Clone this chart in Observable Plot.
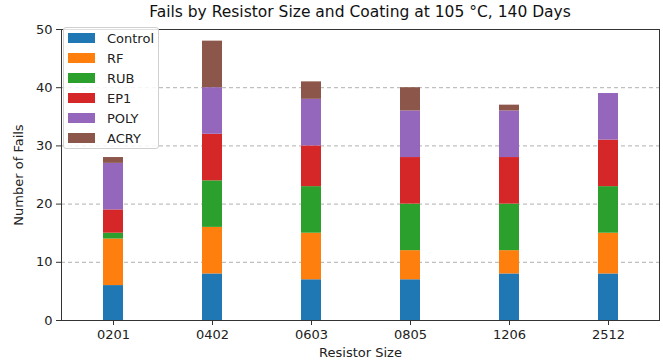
<!DOCTYPE html>
<html>
<head>
<meta charset="utf-8">
<script src="https://cdn.jsdelivr.net/npm/d3@7"></script>
<script src="https://cdn.jsdelivr.net/npm/@observablehq/plot@0.6"></script>
<style>
  body { margin: 0; background: #fff; }
  #wrap { position: relative; width: 663px; height: 362px; font-family: "DejaVu Sans", sans-serif; }
  #chart { position: absolute; left: 0; top: 0; }
  #chart svg { overflow: visible; }
  #title { position: absolute; left: 61px; width: 598px; top: 3px; height: 20px; text-align: center; font-size: 15.5px; color: #111; white-space: nowrap; }
  #legend { position: absolute; left: 63px; top: 27px; width: 96px; height: 122px; box-sizing: border-box;
            border: 1px solid #d0d0d0; border-radius: 3px; background: rgba(255,255,255,0.85); }
  .row { position: absolute; left: 4px; height: 20px; display: flex; align-items: center; font-size: 13px; color: #222; }
  .sw { width: 27px; height: 10px; margin-right: 12px; }
</style>
</head>
<body>
<div id="wrap">
  <div id="chart"></div>
  <div id="title">Fails by Resistor Size and Coating at 105 °C, 140 Days</div>
  <div id="legend"></div>
</div>
<script>
const sizes = ["0201", "0402", "0603", "0805", "1206", "2512"];
const coatings = ["Control", "RF", "RUB", "EP1", "POLY", "ACRY"];
const control = [6, 8, 7, 7, 8, 8];
const rf      = [8, 8, 8, 5, 4, 7];
const rub     = [1, 8, 8, 8, 8, 8];
const ep1     = [4, 8, 7, 8, 8, 8];
const poly    = [8, 8, 8, 8, 8, 8];
const acry    = [1, 8, 3, 4, 1, 0];
const colors = ["#1f77b4", "#ff7f0e", "#2ca02c", "#d62728", "#9467bd", "#8c564b"];
const yTicks = [0, 10, 20, 30, 40, 50];

const series = [control, rf, rub, ep1, poly, acry];
const data = [];
sizes.forEach((s, i) => {
  coatings.forEach((c, j) => data.push({size: s, coating: c, fails: series[j][i]}));
});

const plot = Plot.plot({
  width: 663,
  height: 362,
  marginLeft: 61,
  marginRight: 4,
  marginTop: 29,
  marginBottom: 42,
  style: { fontFamily: "DejaVu Sans, sans-serif", fontSize: "13px", color: "#222", background: "white", overflow: "visible" },
  x: { type: "band", domain: sizes, paddingInner: 0.8, paddingOuter: 0.4, label: null },
  y: { domain: [0, 50], label: null },
  color: { domain: coatings, range: colors },
  marks: [
    Plot.gridY(yTicks.slice(1, 5), { stroke: "#b0b0b0", strokeOpacity: 1, strokeDasharray: "4,3" }),
    Plot.barY(data, { x: "size", y: "fails", fill: "coating", order: coatings }),
    Plot.axisX({ tickSize: 5, tickPadding: 4, label: "Resistor Size", labelAnchor: "center", labelArrow: "none", labelOffset: 36, stroke: "#333" }),
    Plot.axisY({ ticks: yTicks, tickSize: 5, tickPadding: 4, label: "Number of Fails", labelAnchor: "center", labelArrow: "none", labelOffset: 48, stroke: "#333" }),
    Plot.frame({ stroke: "#333", strokeWidth: 1 })
  ]
});
document.getElementById("chart").appendChild(plot);

const leg = document.getElementById("legend");
coatings.forEach((c, i) => {
  const row = document.createElement("div");
  row.className = "row";
  row.style.top = (i * 20) + "px";
  row.innerHTML = `<div class="sw" style="background:${colors[i]}"></div><span>${c}</span>`;
  leg.appendChild(row);
});
</script>
</body>
</html>
